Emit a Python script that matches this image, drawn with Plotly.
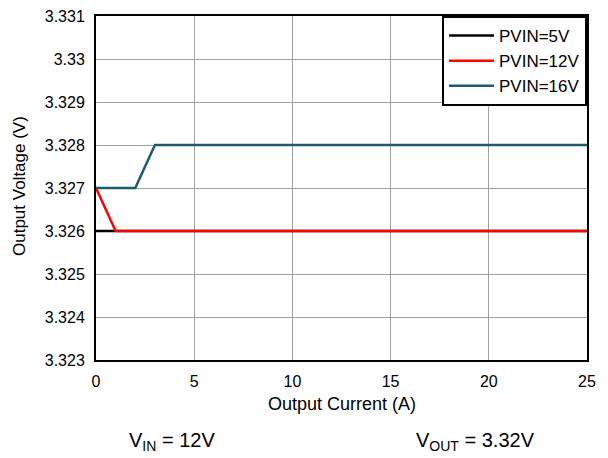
import plotly.graph_objects as go

current_5v = [0, 25]
vout_5v = [3.326, 3.326]
current_12v = [0, 1, 25]
vout_12v = [3.327, 3.326, 3.326]
current_16v = [0, 2, 3, 25]
vout_16v = [3.327, 3.327, 3.328, 3.328]

y_ticks = [3.323, 3.324, 3.325, 3.326, 3.327, 3.328, 3.329, 3.33, 3.331]
y_tick_labels = ["3.323", "3.324", "3.325", "3.326", "3.327", "3.328", "3.329", "3.33", "3.331"]
x_ticks = [0, 5, 10, 15, 20, 25]

fig = go.Figure()
fig.add_trace(go.Scatter(x=current_5v, y=vout_5v, mode="lines", name="PVIN=5V",
                         line=dict(color="#000000", width=2.5)))
fig.add_trace(go.Scatter(x=current_12v, y=vout_12v, mode="lines", name="PVIN=12V",
                         line=dict(color="#ff0000", width=2.5)))
fig.add_trace(go.Scatter(x=current_16v, y=vout_16v, mode="lines", name="PVIN=16V",
                         line=dict(color="#1f5c6b", width=2.5)))

# page is offset by 8px body margin; plot area in page pixels: x 96..587, y 16..360
PX0, PX1, PY0, PY1 = 96, 587, 16, 360


def px(x):
    return (x - PX0) / (PX1 - PX0)


def py(y):
    return (PY1 - y) / (PY1 - PY0)


font = "Liberation Sans, Arial, sans-serif"
fig.update_layout(
    width=600, height=450, autosize=False,
    margin=dict(l=88, r=21, t=8, b=98, pad=0, autoexpand=False),
    paper_bgcolor="white", plot_bgcolor="white",
    font=dict(family=font, size=16, color="black"),
    showlegend=True,
    legend=dict(x=1, y=1, xanchor="right", yanchor="top",
                bordercolor="black", borderwidth=2, bgcolor="white",
                font=dict(size=17), tracegroupgap=0, itemwidth=45),
    xaxis=dict(range=[0, 25], tickvals=x_ticks, showgrid=True, gridcolor="#a0a0a0",
               gridwidth=1, showline=True, linecolor="black", linewidth=2, mirror=True,
               zeroline=False, ticks="", tickfont=dict(size=16), automargin=False,
               ticklabelstandoff=6, ticklabeloverflow="allow"),
    yaxis=dict(range=[3.323, 3.331], tickvals=y_ticks, ticktext=y_tick_labels,
               showgrid=True, gridcolor="#a0a0a0", gridwidth=1, showline=True,
               linecolor="black", linewidth=2, mirror=True, zeroline=False, ticks="",
               tickfont=dict(size=16), automargin=False, ticklabelstandoff=6,
               ticklabeloverflow="allow"),
    annotations=[
        dict(text="Output Current (A)", xref="paper", yref="paper", x=0.5, y=py(404),
             xanchor="center", yanchor="middle", showarrow=False, font=dict(size=18)),
        dict(text="Output Voltage (V)", xref="paper", yref="paper", x=px(19), y=py(186),
             xanchor="center", yanchor="middle", showarrow=False, textangle=-90,
             font=dict(size=17)),
        dict(text="V<sub>IN</sub> = 12V", xref="paper", yref="paper", x=px(172),
             y=py(441), xanchor="center", yanchor="middle", showarrow=False,
             font=dict(size=20)),
        dict(text="V<sub>OUT</sub> = 3.32V", xref="paper", yref="paper", x=px(475),
             y=py(441), xanchor="center", yanchor="middle", showarrow=False,
             font=dict(size=20)),
    ],
)
fig.write_html("out.html")
